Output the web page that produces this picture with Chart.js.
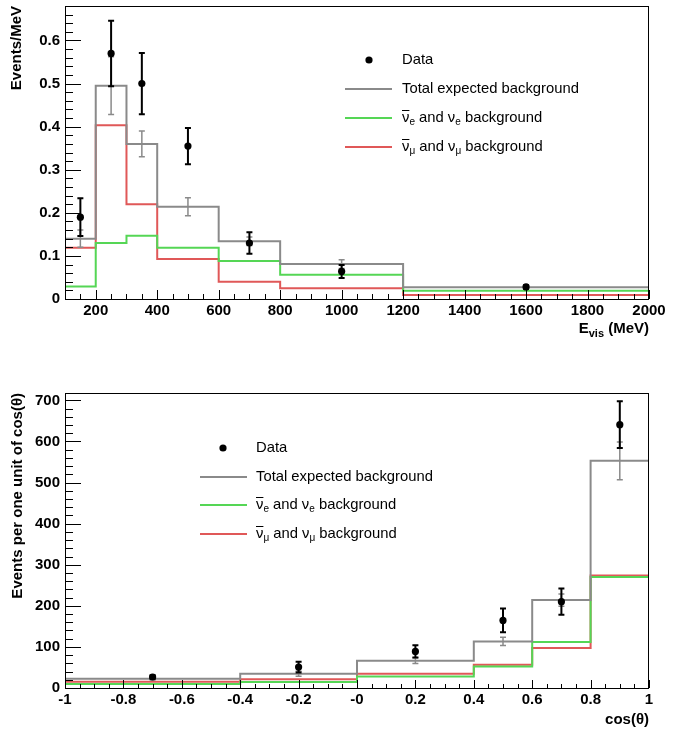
<!DOCTYPE html>
<html>
<head>
<meta charset="utf-8">
<script src="https://cdn.jsdelivr.net/npm/chart.js@4.4.1/dist/chart.umd.min.js"></script>
<style>
html, body { margin: 0; padding: 0; background: #fff; }
.plot_box { position: absolute; left: 0; width: 678px; height: 365px; }
</style>
</head>
<body>
<div class="plot_box" style="top:0"><canvas id="energyChart" width="678" height="365"></canvas></div>
<div class="plot_box" style="top:365px"><canvas id="angleChart" width="678" height="365"></canvas></div>
<script>
// ---- visible energy spectrum ----
const energyEdges = [100, 200, 300, 400, 600, 800, 1200, 2000];
const energyTotal = [0.14, 0.495, 0.36, 0.214, 0.134, 0.081, 0.027];
const energyTotalErr = [0.02, 0.067, 0.03, 0.021, 0.01, 0.01, 0.002];
const energyNueBkg = [0.029, 0.13, 0.147, 0.119, 0.088, 0.056, 0.019];
const energyNumuBkg = [0.119, 0.403, 0.22, 0.093, 0.04, 0.025, 0.009];
const energyDataX = [150, 250, 350, 500, 700, 1000, 1600];
const energyDataY = [0.19, 0.57, 0.5, 0.355, 0.13, 0.064, 0.028];
const energyDataErr = [0.044, 0.076, 0.071, 0.042, 0.025, 0.015, 0.004];
const energyXTicks = [200, 400, 600, 800, 1000, 1200, 1400, 1600, 1800, 2000];
const energyYTicks = [0, 0.1, 0.2, 0.3, 0.4, 0.5, 0.6];

// ---- cos(theta) distribution ----
const cosEdges = [-1, -0.4, 0, 0.4, 0.6, 0.8, 1];
const cosTotal = [22.6, 34.8, 66.4, 113.4, 214, 553];
const cosTotalErr = [3, 6, 7, 10, 15, 46];
const cosNueBkg = [9.7, 14.6, 28.2, 52.6, 112, 270];
const cosNumuBkg = [15.3, 21, 34.8, 56.7, 97.3, 274];
const cosDataX = [-0.7, -0.2, 0.2, 0.5, 0.7, 0.9];
const cosDataY = [26.8, 51, 89, 164.5, 210, 641];
const cosDataErr = [4, 13, 15, 29, 32, 57];
const cosXTicks = [-1, -0.8, -0.6, -0.4, -0.2, 0, 0.2, 0.4, 0.6, 0.8, 1];
const cosXTickLabels = ['-1', '-0.8', '-0.6', '-0.4', '-0.2', '-0', '0.2', '0.4', '0.6', '0.8', '1'];
const cosYTicks = [0, 100, 200, 300, 400, 500, 600, 700];

const legendLabels = ['Data', 'Total expected background', 'nue', 'numu'];

const GRAY = '#8a8a8a';
const GREEN = '#55d655';
const RED = '#e05858';
const FONT = '"Liberation Sans", Arial, Helvetica, sans-serif';

function histPoints(edges, values) {
    return edges.map((x, i) => ({x: x, y: values[Math.min(i, values.length - 1)]}));
}
function binCenters(edges) {
    return edges.slice(0, -1).map((e, i) => (e + edges[i + 1]) / 2);
}
function points(xs, ys) {
    return xs.map((x, i) => ({x: x, y: ys[i]}));
}

// error bars drawn right after the dataset that owns them
const errorBars = {
    id: 'errorBars',
    afterDatasetDraw(chart, args) {
        const ds = chart.data.datasets[args.index];
        if (!ds.errBars) return;
        const {ctx, scales: {x, y}, chartArea} = chart;
        const eb = ds.errBars;
        ctx.save();
        ctx.beginPath();
        ctx.rect(chartArea.left, chartArea.top, chartArea.width, chartArea.height);
        ctx.clip();
        ctx.strokeStyle = eb.color;
        ctx.lineWidth = eb.width;
        eb.x.forEach((xv, i) => {
            const px = x.getPixelForValue(xv);
            const top = y.getPixelForValue(eb.y[i] + eb.err[i]);
            const bot = y.getPixelForValue(eb.y[i] - eb.err[i]);
            ctx.beginPath();
            ctx.moveTo(px, top); ctx.lineTo(px, bot);
            ctx.moveTo(px - eb.cap, top); ctx.lineTo(px + eb.cap, top);
            ctx.moveTo(px - eb.cap, bot); ctx.lineTo(px + eb.cap, bot);
            ctx.stroke();
        });
        ctx.restore();
    }
};

// ROOT style frame with inward ticks, axis titles and legend
const rootFrame = {
    id: 'rootFrame',
    afterDraw(chart, args, opts) {
        const {ctx, chartArea: a, scales: {x, y}} = chart;
        ctx.save();
        ctx.strokeStyle = '#000';
        ctx.lineWidth = 1;
        ctx.strokeRect(a.left + 0.5, a.top + 0.5, a.width - 1, a.height);

        ctx.beginPath();
        const eps = 1e-9;
        for (let v = x.min; v <= x.max + eps; v += opts.xMinor) {
            const major = opts.xMajor.some(m => Math.abs(m - v) < opts.xMinor / 100);
            const px = Math.round(x.getPixelForValue(v)) + 0.5;
            ctx.moveTo(px, a.bottom);
            ctx.lineTo(px, a.bottom - (major ? opts.xMajorLen : opts.xMinorLen));
        }
        for (let v = y.min; v <= y.max + eps; v += opts.yMinor) {
            const major = opts.yMajor.some(m => Math.abs(m - v) < opts.yMinor / 100);
            const py = Math.round(y.getPixelForValue(v)) + 0.5;
            ctx.moveTo(a.left, py);
            ctx.lineTo(a.left + (major ? opts.yMajorLen : opts.yMinorLen), py);
        }
        ctx.stroke();

        // y title, right aligned to the top of the axis
        ctx.fillStyle = '#000';
        ctx.font = 'bold 15px ' + FONT;
        ctx.save();
        ctx.translate(opts.yTitleX, a.top);
        ctx.rotate(-Math.PI / 2);
        ctx.textAlign = 'right';
        ctx.textBaseline = 'middle';
        ctx.fillText(opts.yTitle, 0, 0);
        ctx.restore();

        // x title, right aligned to the end of the axis
        ctx.textBaseline = 'alphabetic';
        ctx.textAlign = 'left';
        const parts = opts.xTitle;
        const widths = parts.map(p => {
            ctx.font = (p.sub ? 'bold 11px ' : 'bold 15px ') + FONT;
            return ctx.measureText(p.t).width;
        });
        let cx = a.right - widths.reduce((s, w) => s + w, 0);
        parts.forEach((p, i) => {
            ctx.font = (p.sub ? 'bold 11px ' : 'bold 15px ') + FONT;
            ctx.fillText(p.t, cx, opts.xTitleY + (p.sub ? 4 : 0));
            cx += widths[i];
        });

        // legend
        const lg = opts.legend;
        ctx.textBaseline = 'middle';
        chart.data.datasets.forEach((ds, i) => {
            const ry = lg.rows[i];
            if (ds.type === 'scatter') {
                ctx.fillStyle = '#000';
                ctx.beginPath();
                ctx.arc(lg.markX, ry, 3.6, 0, Math.PI * 2);
                ctx.fill();
            } else {
                ctx.strokeStyle = ds.borderColor;
                ctx.lineWidth = 2;
                ctx.beginPath();
                ctx.moveTo(lg.lineX1, ry); ctx.lineTo(lg.lineX2, ry);
                ctx.stroke();
            }
            ctx.fillStyle = '#000';
            let tx = lg.textX;
            ds.legendParts.forEach(p => {
                ctx.font = (p.sub ? '10px ' : '14.8px ') + FONT;
                const w = ctx.measureText(p.t).width;
                ctx.fillText(p.t, tx, ry + (p.sub ? 4 : 0));
                if (p.bar) {
                    ctx.strokeStyle = '#000';
                    ctx.lineWidth = 1;
                    ctx.beginPath();
                    ctx.moveTo(tx, ry - 7.5); ctx.lineTo(tx + w, ry - 7.5);
                    ctx.stroke();
                }
                tx += w;
            });
        });
        ctx.restore();
    }
};

const nueParts = [{t: 'ν', bar: true}, {t: 'e', sub: true}, {t: ' and ν'}, {t: 'e', sub: true}, {t: ' background'}];
const numuParts = [{t: 'ν', bar: true}, {t: 'μ', sub: true}, {t: ' and ν'}, {t: 'μ', sub: true}, {t: ' background'}];

function buildChart(canvasId, cfg) {
    const tickFont = {family: FONT, size: 15, weight: 'bold'};
    return new Chart(document.getElementById(canvasId).getContext('2d'), {
        data: {
            datasets: [
                {
                    type: 'scatter', label: legendLabels[0], data: points(cfg.dataX, cfg.dataY),
                    pointRadius: 3.6, pointBackgroundColor: '#000', pointBorderWidth: 0,
                    legendParts: [{t: legendLabels[0]}],
                    errBars: {x: cfg.dataX, y: cfg.dataY, err: cfg.dataErr, color: '#000', width: 2, cap: 3}
                },
                {
                    type: 'line', label: legendLabels[1], data: histPoints(cfg.edges, cfg.total),
                    stepped: true, borderColor: GRAY, borderWidth: 2, pointRadius: 0, fill: false,
                    legendParts: [{t: legendLabels[1]}],
                    errBars: {x: binCenters(cfg.edges), y: cfg.total, err: cfg.totalErr, color: GRAY, width: 1.5, cap: 3}
                },
                {
                    type: 'line', label: legendLabels[2], data: histPoints(cfg.edges, cfg.nue),
                    stepped: true, borderColor: GREEN, borderWidth: 2, pointRadius: 0, fill: false,
                    legendParts: nueParts
                },
                {
                    type: 'line', label: legendLabels[3], data: histPoints(cfg.edges, cfg.numu),
                    stepped: true, borderColor: RED, borderWidth: 2, pointRadius: 0, fill: false,
                    legendParts: numuParts
                }
            ]
        },
        options: {
            responsive: false,
            animation: false,
            events: [],
            layout: {padding: {top: cfg.padTop, right: 29, left: 0, bottom: 0}},
            scales: {
                x: {
                    type: 'linear', min: cfg.edges[0], max: cfg.edges[cfg.edges.length - 1],
                    afterBuildTicks: s => { s.ticks = cfg.xTicks.map(v => ({value: v})); },
                    afterFit: s => { s.height = cfg.xAxisHeight; s.paddingLeft = 0; s.paddingRight = 0; },
                    grid: {display: false, tickLength: 0}, border: {display: false},
                    ticks: {
                        autoSkip: false, maxRotation: 0, padding: 3, color: '#000', font: tickFont,
                        callback: (v, i) => cfg.xLabels ? cfg.xLabels[i] : String(v)
                    }
                },
                y: {
                    type: 'linear', min: 0, max: cfg.yMax,
                    afterBuildTicks: s => { s.ticks = cfg.yTicks.map(v => ({value: v})); },
                    afterFit: s => { s.width = 65; s.paddingTop = 0; s.paddingBottom = 0; },
                    grid: {display: false, tickLength: 0}, border: {display: false},
                    ticks: {autoSkip: false, padding: 5, color: '#000', font: tickFont,
                        callback: v => String(v)}
                }
            },
            plugins: {
                legend: {display: false},
                tooltip: {enabled: false},
                rootFrame: cfg.frame
            }
        },
        plugins: [errorBars, rootFrame]
    });
}

buildChart('energyChart', {
    edges: energyEdges, total: energyTotal, totalErr: energyTotalErr,
    nue: energyNueBkg, numu: energyNumuBkg,
    dataX: energyDataX, dataY: energyDataY, dataErr: energyDataErr,
    xTicks: energyXTicks, yTicks: energyYTicks, yMax: 0.68,
    padTop: 6, xAxisHeight: 66,
    frame: {
        xMajor: energyXTicks, xMinor: 50, xMajorLen: 9, xMinorLen: 5,
        yMajor: energyYTicks, yMinor: 0.02, yMajorLen: 16, yMinorLen: 8,
        yTitle: 'Events/MeV', yTitleX: 17,
        xTitle: [{t: 'E'}, {t: 'vis', sub: true}, {t: ' (MeV)'}], xTitleY: 333,
        legend: {rows: [60, 89, 118, 147], markX: 369, lineX1: 345, lineX2: 392, textX: 402}
    }
});

buildChart('angleChart', {
    edges: cosEdges, total: cosTotal, totalErr: cosTotalErr,
    nue: cosNueBkg, numu: cosNumuBkg,
    dataX: cosDataX, dataY: cosDataY, dataErr: cosDataErr,
    xTicks: cosXTicks, xLabels: cosXTickLabels, yTicks: cosYTicks, yMax: 718,
    padTop: 28, xAxisHeight: 42,
    frame: {
        xMajor: cosXTicks, xMinor: 0.05, xMajorLen: 8, xMinorLen: 4,
        yMajor: cosYTicks, yMinor: 20, yMajorLen: 16, yMinorLen: 8,
        yTitle: 'Events per one unit of cos(θ)', yTitleX: 18,
        xTitle: [{t: 'cos(θ)'}], xTitleY: 359,
        legend: {rows: [83, 112, 140, 169], markX: 223, lineX1: 200, lineX2: 247, textX: 256}
    }
});
</script>
</body>
</html>
